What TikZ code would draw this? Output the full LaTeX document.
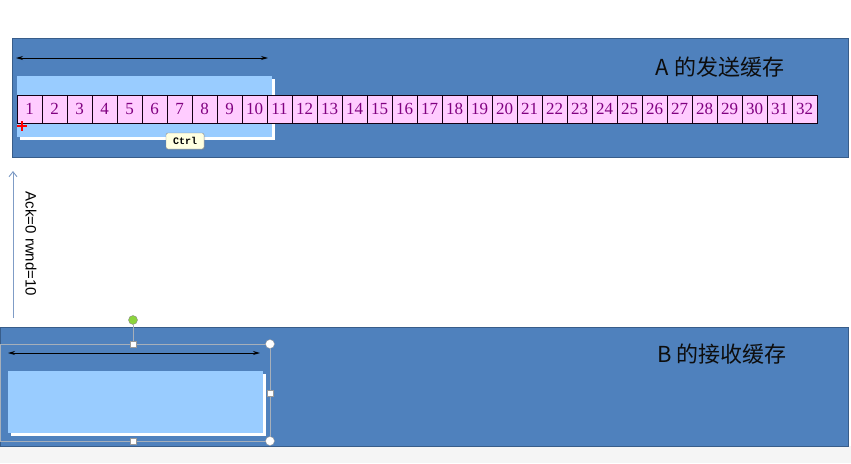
\documentclass[tikz,border=0pt]{standalone}
\usepackage{fontspec}
\setmainfont{Liberation Serif}
\setsansfont{Liberation Sans}
\setmonofont{Liberation Mono}
\newfontfamily\cjkfont{Noto Sans CJK SC}
\usetikzlibrary{arrows.meta, positioning, shadows}
\definecolor{bufblue}{HTML}{4F81BD}
\definecolor{bufedge}{HTML}{385D8A}
\definecolor{winblue}{HTML}{99CCFF}
\definecolor{cellpink}{HTML}{FFCCFF}
\definecolor{cellnum}{HTML}{800080}
\definecolor{ackblue}{HTML}{7F9CC6}
\definecolor{tipcream}{HTML}{FFFFE1}
\definecolor{gripgreen}{HTML}{8CD43C}

\begin{document}
\begin{tikzpicture}[
    x=1pt, y=-1pt,
    buffer/.style={draw=bufedge, fill=bufblue, line width=0.8pt, anchor=north west, inner sep=0pt},
    window/.style={fill=winblue, anchor=north west, inner sep=0pt, general shadow={fill=white, shadow xshift=2.5pt, shadow yshift=-2.5pt}},
    cell/.style={draw=black!85!cellnum, fill=cellpink, line width=0.9pt, minimum width=25pt, minimum height=28pt, inner sep=0pt, font=\fontsize{17}{17}\selectfont, text=cellnum},
    title/.style={font=\cjkfont\fontsize{22}{22}\selectfont, text=black!95},
    span/.style={{Stealth[length=7pt, width=4pt]}-{Stealth[length=7pt, width=4pt]}, line width=0.9pt, draw=black},
    ack/.style={-{Straight Barb[length=5pt, width=8pt]}, draw=ackblue, line width=0.9pt},
    tip/.style={draw=black!45, fill=tipcream, rounded corners=2pt, minimum width=38pt, minimum height=16pt, inner sep=1pt, font=\ttfamily\bfseries\fontsize{10}{10}\selectfont, drop shadow={shadow xshift=1pt, shadow yshift=-1pt, opacity=0.3}},
    handle/.style={draw=black!40, fill=white, minimum size=6pt, inner sep=0pt},
    ring/.style={circle, draw=black!40, fill=white, minimum size=9pt, inner sep=0pt},
    grip/.style={circle, draw=black!45, fill=gripgreen, minimum size=9pt, inner sep=0pt},
    selframe/.style={draw=bufedge!60!black!40, line width=0.4pt}
]
    % canvas
    \fill[white] (0,0) rectangle (851,463);
    \fill[black!4] (0,446) rectangle (851,463);
    \useasboundingbox (0,0) rectangle (851,463);

    % A: send buffer
    \node[buffer, minimum width=836pt, minimum height=119pt] (bufA) at (12,38) {};
    \node[title] (titleA) at (720,67) {A 的发送缓存};
    \node[window, minimum width=255pt, minimum height=61pt] (winA) at (17,76) {};
    \foreach \i in {1,...,32}
        \node[cell] (c\i) at ({29.5+25*(\i-1)},109) {\i};
    \coordinate (spanAl) at (16,58);
    \coordinate (spanAr) at (268,58);
    \draw[span] (spanAl) -- (spanAr);
    \node[tip] (ctrlTip) at (185,141) {Ctrl};
    \draw[red, line width=1.6pt] (17,126) -- (27,126) (22,121) -- (22,131);

    % ack from B to A
    \coordinate (ackFrom) at (13,318);
    \coordinate (ackTo) at (13,171);
    \draw[ack] (ackFrom) -- (ackTo);
    \node[rotate=-90, font=\sffamily\fontsize{15}{15}\selectfont] (ackLbl) at (31,244) {Ack=0 rwnd=10};

    % B: receive buffer
    \node[buffer, minimum width=848pt, minimum height=119pt] (bufB) at (0,327) {};
    \node[title] (titleB) at (722,354) {B 的接收缓存};
    \node[window, minimum width=255pt, minimum height=62pt] (winB) at (8,371) {};
    \coordinate (spanBl) at (8,353);
    \coordinate (spanBr) at (260,353);
    \draw[span] (spanBl) -- (spanBr);

    % selection handles
    \coordinate (selNW) at (0,344);
    \coordinate (selSE) at (270,441);
    \draw[selframe] (selNW) rectangle (selSE);
    \node[handle] (hTop) at (133,344) {};
    \node[handle] (hBot) at (133,441) {};
    \node[handle] (hRight) at (270,393) {};
    \node[ring] (hNE) at (270,344) {};
    \node[ring] (hSE) at (270,441) {};
    \node[grip] (hTurn) at (133,320) {};
    \draw[selframe] (hTurn) -- (hTop);
\end{tikzpicture}
\end{document}
